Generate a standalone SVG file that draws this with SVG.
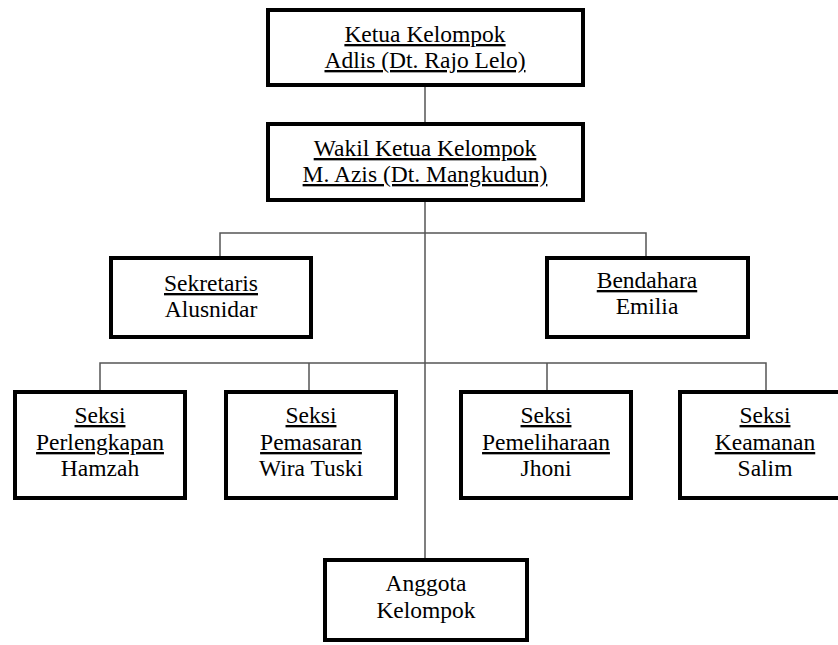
<svg xmlns="http://www.w3.org/2000/svg" width="838" height="645" viewBox="0 0 838 645">
<style>
.box{fill:#fff;stroke:#000;stroke-width:4}
.t{font-family:"Liberation Serif","Times New Roman",serif;font-size:23.5px;fill:#000;text-anchor:middle}
.u{text-decoration:underline}
.c{stroke:#555;stroke-width:1.5;fill:none}
</style>
<rect width="838" height="645" fill="#fff"/>
<g id="connectors">
<line class="c" x1="425" y1="87" x2="425" y2="122"/>
<line class="c" x1="425" y1="202" x2="425" y2="558"/>
<polyline class="c" points="220,256 220,233 646,233 646,256"/>
<polyline class="c" points="100,390 100,363 766,363 766,390"/>
<line class="c" x1="309" y1="363" x2="309" y2="390"/>
<line class="c" x1="547" y1="363" x2="547" y2="390"/>
</g>
<g id="ketua">
<rect class="box" x="268" y="10" width="315" height="75"/>
<text class="t u" x="425" y="42">Ketua Kelompok</text>
<text class="t u" x="425" y="68">Adlis (Dt. Rajo Lelo)</text>
</g>
<g id="wakil">
<rect class="box" x="268" y="124" width="315" height="76"/>
<text class="t u" x="425" y="156">Wakil Ketua Kelompok</text>
<text class="t u" x="425" y="182">M. Azis (Dt. Mangkudun)</text>
</g>
<g id="sekretaris">
<rect class="box" x="111" y="258" width="200" height="79"/>
<text class="t u" x="211" y="291">Sekretaris</text>
<text class="t" x="211" y="317">Alusnidar</text>
</g>
<g id="bendahara">
<rect class="box" x="547" y="258" width="201" height="79"/>
<text class="t u" x="647" y="288">Bendahara</text>
<text class="t" x="647" y="314">Emilia</text>
</g>
<g id="perlengkapan">
<rect class="box" x="15" y="392" width="170" height="106"/>
<text class="t u" x="100" y="423">Seksi</text>
<text class="t u" x="100" y="450">Perlengkapan</text>
<text class="t" x="100" y="476">Hamzah</text>
</g>
<g id="pemasaran">
<rect class="box" x="226" y="392" width="170" height="106"/>
<text class="t u" x="311" y="423">Seksi</text>
<text class="t u" x="311" y="450">Pemasaran</text>
<text class="t" x="311" y="476">Wira Tuski</text>
</g>
<g id="pemeliharaan">
<rect class="box" x="461" y="392" width="170" height="106"/>
<text class="t u" x="546" y="423">Seksi</text>
<text class="t u" x="546" y="450">Pemeliharaan</text>
<text class="t" x="546" y="476">Jhoni</text>
</g>
<g id="keamanan">
<rect class="box" x="680" y="392" width="170" height="106"/>
<text class="t u" x="765" y="423">Seksi</text>
<text class="t u" x="765" y="450">Keamanan</text>
<text class="t" x="765" y="476">Salim</text>
</g>
<g id="anggota">
<rect class="box" x="325" y="560" width="202" height="80"/>
<text class="t" x="426" y="591">Anggota</text>
<text class="t" x="426" y="618">Kelompok</text>
</g>
</svg>
